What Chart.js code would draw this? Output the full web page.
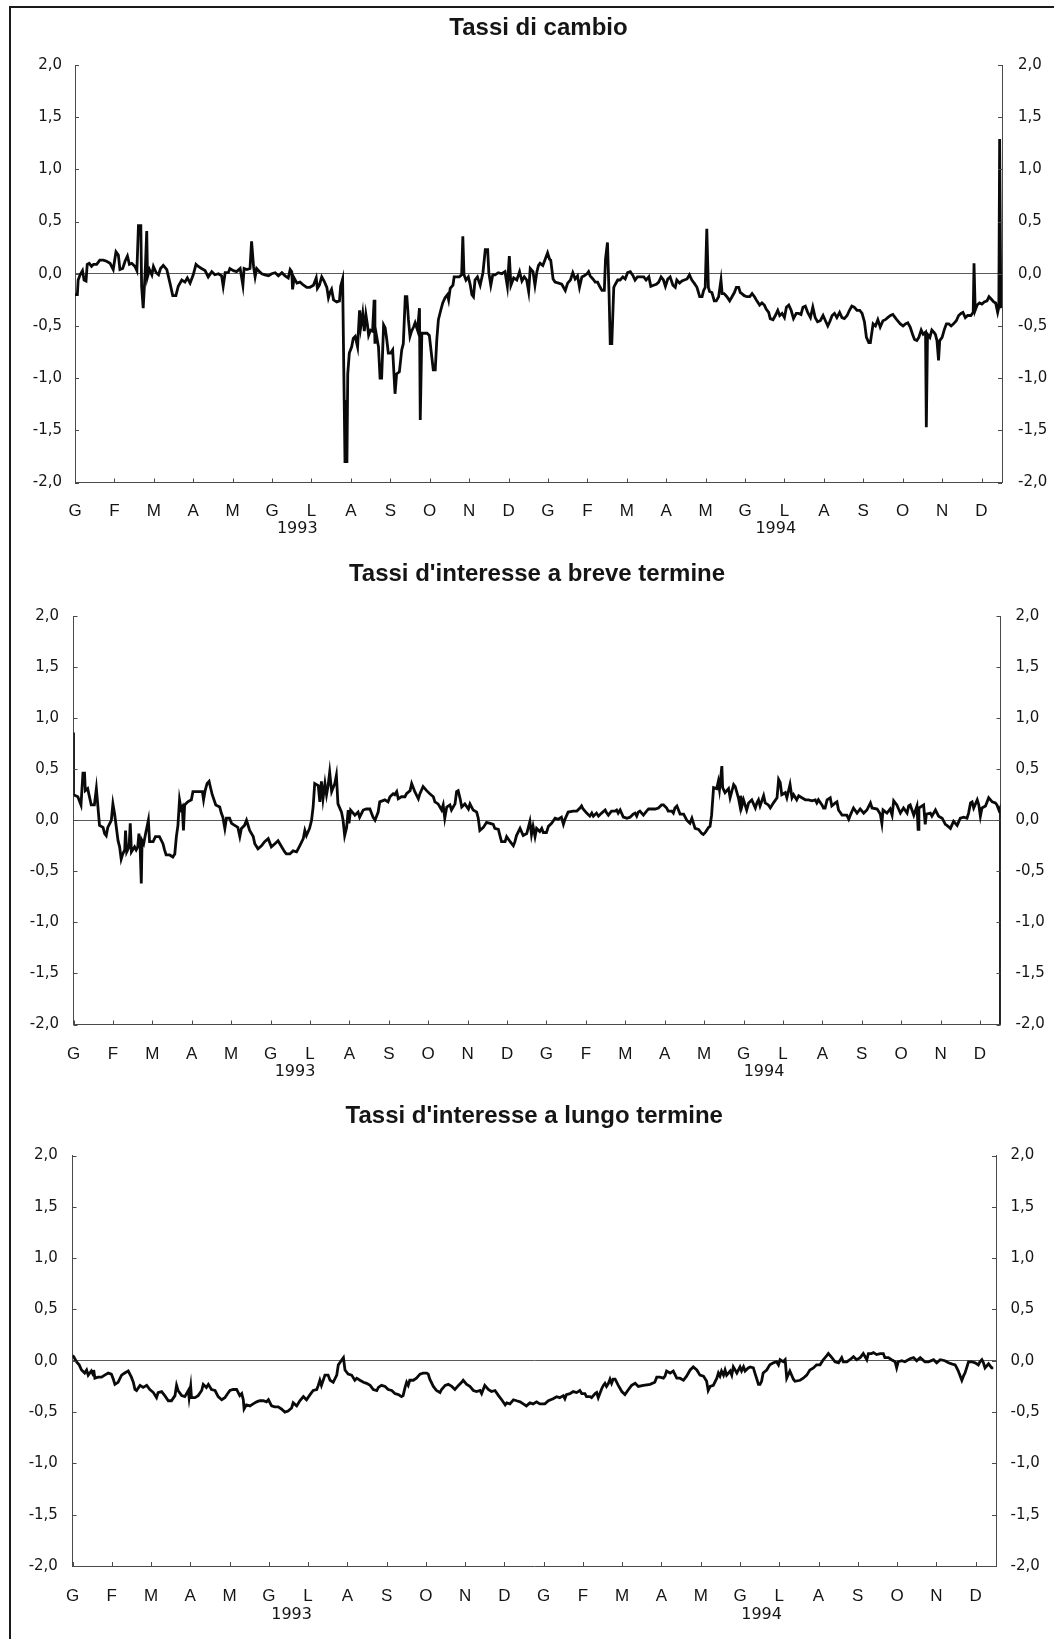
<!DOCTYPE html>
<html>
<head>
<meta charset="utf-8">
<script src="https://cdn.jsdelivr.net/npm/chart.js@4.4.1/dist/chart.umd.min.js"></script>
<style>
  html, body { margin: 0; padding: 0; background: #fff; }
  body { width: 1054px; height: 1639px; position: relative; overflow: hidden; }
  .frame { position: absolute; left: 9px; top: 6px; width: 1070px; height: 1660px;
           border: 2px solid #1a1a1a; box-sizing: border-box; }
  canvas { position: absolute; left: 0; }
</style>
</head>
<body>
<div class="frame"></div>
<canvas id="cambio" width="1054" height="545" style="top:0px"></canvas>
<canvas id="breve" width="1054" height="545" style="top:545px"></canvas>
<canvas id="lungo" width="1054" height="549" style="top:1090px"></canvas>

<script>
// mesi (G = gennaio 1993 ... D = dicembre 1994), asse x in mesi da inizio 1993
const mesi = ["G","F","M","A","M","G","L","A","S","O","N","D",
              "G","F","M","A","M","G","L","A","S","O","N","D"];
const meseTicks = [0,1,2,3,4,5,6,7,8,9,10,11,12,13,14,15,16,17,18,19,20,21,22,23];
const anni = ["1993", "1994"];
const yTicks = [-2, -1.5, -1, -0.5, 0, 0.5, 1, 1.5, 2];

// [mese, valore]
const cambio = [
  [0.00,-0.20],[0.06,-0.20],[0.08,-0.06],[0.13,-0.01],[0.19,0.03],[0.23,-0.06],[0.28,-0.07],[0.31,0.09],
  [0.36,0.10],[0.42,0.07],[0.47,0.09],[0.55,0.09],[0.63,0.13],[0.72,0.13],[0.80,0.12],[0.89,0.10],
  [0.97,0.04],[1.04,0.21],[1.10,0.18],[1.14,0.04],[1.21,0.05],[1.27,0.12],[1.33,0.17],[1.38,0.09],
  [1.44,0.10],[1.52,0.07],[1.57,0.03],[1.61,0.46],[1.67,0.46],[1.69,-0.12],[1.73,-0.33],[1.78,0.01],
  [1.82,0.41],[1.84,-0.03],[1.89,0.04],[1.95,-0.01],[1.99,0.07],[2.06,0.01],[2.12,-0.01],[2.17,0.05],
  [2.24,0.08],[2.33,0.04],[2.41,-0.09],[2.48,-0.21],[2.56,-0.21],[2.62,-0.12],[2.71,-0.06],[2.79,-0.08],
  [2.85,-0.04],[2.92,-0.09],[3.00,-0.01],[3.07,0.09],[3.13,0.07],[3.21,0.05],[3.30,0.03],[3.38,-0.03],
  [3.47,0.02],[3.55,-0.01],[3.64,0.00],[3.72,-0.02],[3.76,-0.12],[3.81,0.01],[3.89,0.01],[3.93,0.05],
  [4.02,0.03],[4.10,0.02],[4.19,0.05],[4.26,-0.11],[4.29,0.05],[4.36,0.04],[4.44,0.05],[4.48,0.31],
  [4.53,0.07],[4.57,-0.03],[4.61,0.05],[4.68,0.02],[4.74,0.00],[4.82,-0.01],[4.91,-0.02],[4.99,0.00],
  [5.08,0.01],[5.16,-0.02],[5.25,0.01],[5.33,-0.02],[5.41,-0.04],[5.46,0.04],[5.50,0.02],[5.52,-0.15],
  [5.56,-0.04],[5.63,-0.09],[5.71,-0.08],[5.80,-0.11],[5.88,-0.13],[5.96,-0.13],[6.05,-0.11],[6.12,-0.04],
  [6.15,-0.14],[6.20,-0.11],[6.26,-0.03],[6.32,-0.07],[6.39,-0.13],[6.43,-0.23],[6.47,-0.18],[6.51,-0.15],
  [6.56,-0.25],[6.64,-0.27],[6.71,-0.26],[6.74,-0.12],[6.79,-0.05],[6.83,-1.21],[6.85,-1.80],[6.90,-1.80],
  [6.92,-0.96],[6.96,-0.76],[7.02,-0.70],[7.06,-0.62],[7.11,-0.60],[7.17,-0.70],[7.22,-0.35],[7.25,-0.51],
  [7.30,-0.38],[7.34,-0.55],[7.38,-0.39],[7.42,-0.49],[7.45,-0.59],[7.50,-0.54],[7.55,-0.55],[7.59,-0.25],
  [7.61,-0.67],[7.64,-0.57],[7.70,-0.70],[7.74,-1.00],[7.78,-1.00],[7.83,-0.49],[7.87,-0.52],[7.91,-0.63],
  [7.95,-0.76],[8.01,-0.76],[8.06,-0.73],[8.12,-1.15],[8.16,-0.96],[8.23,-0.94],[8.29,-0.73],[8.33,-0.67],
  [8.38,-0.22],[8.42,-0.22],[8.46,-0.44],[8.50,-0.60],[8.54,-0.55],[8.59,-0.51],[8.63,-0.47],[8.69,-0.54],
  [8.74,-0.33],[8.76,-1.40],[8.80,-0.57],[8.86,-0.57],[8.93,-0.57],[8.99,-0.59],[9.05,-0.79],[9.09,-0.92],
  [9.14,-0.92],[9.18,-0.63],[9.22,-0.44],[9.28,-0.35],[9.33,-0.28],[9.39,-0.23],[9.45,-0.20],[9.48,-0.25],
  [9.52,-0.14],[9.59,-0.11],[9.62,-0.03],[9.69,-0.03],[9.75,-0.03],[9.81,-0.01],[9.84,0.36],[9.87,-0.01],
  [9.92,-0.06],[9.98,-0.03],[10.03,-0.11],[10.07,-0.20],[10.11,-0.22],[10.15,-0.06],[10.21,-0.03],[10.28,-0.11],
  [10.35,0.01],[10.41,0.23],[10.47,0.23],[10.50,0.01],[10.55,-0.11],[10.60,-0.01],[10.66,-0.01],[10.74,0.01],
  [10.83,0.00],[10.91,0.02],[10.97,-0.12],[11.02,0.17],[11.06,-0.11],[11.13,-0.04],[11.21,-0.06],[11.28,0.02],
  [11.34,-0.07],[11.40,-0.03],[11.46,-0.06],[11.51,-0.17],
  [11.55,0.05],[11.62,0.02],[11.67,-0.11],[11.72,0.02],[11.76,0.08],[11.80,0.10],[11.87,0.08],[11.93,0.14],
  [11.99,0.20],[12.04,0.14],[12.07,0.13],[12.13,-0.05],[12.18,-0.08],[12.27,-0.09],[12.35,-0.10],[12.44,-0.16],
  [12.50,-0.09],[12.57,-0.06],[12.63,0.01],[12.69,-0.05],[12.75,-0.02],[12.80,-0.13],[12.86,-0.03],[12.92,-0.02],
  [12.99,0.00],[13.03,0.02],[13.07,-0.02],[13.14,-0.05],[13.20,-0.08],[13.26,-0.08],[13.31,-0.12],[13.37,-0.16],
  [13.43,-0.16],[13.46,0.14],[13.51,0.30],[13.55,-0.19],[13.58,-0.67],[13.62,-0.67],[13.67,-0.13],[13.71,-0.10],
  [13.77,-0.06],[13.83,-0.06],[13.90,-0.03],[13.96,-0.05],[14.02,0.01],[14.09,0.02],[14.16,-0.02],[14.21,-0.06],
  [14.27,-0.03],[14.34,-0.03],[14.43,-0.03],[14.49,-0.06],[14.56,-0.03],[14.61,-0.12],[14.68,-0.11],[14.75,-0.10],
  [14.81,-0.08],[14.87,-0.03],[14.93,-0.06],[14.98,-0.12],[15.04,-0.05],[15.10,-0.03],[15.17,-0.11],[15.23,-0.13],
  [15.27,-0.06],[15.34,-0.09],[15.40,-0.07],[15.46,-0.06],[15.53,-0.05],[15.59,-0.01],[15.65,-0.06],[15.71,-0.09],
  [15.78,-0.13],[15.85,-0.22],[15.91,-0.22],[15.95,-0.16],[15.99,-0.13],[16.03,0.43],[16.07,-0.13],[16.10,-0.17],
  [16.16,-0.18],[16.22,-0.26],[16.27,-0.26],[16.33,-0.22],[16.39,-0.06],[16.42,-0.19],[16.47,-0.19],[16.54,-0.22],
  [16.61,-0.26],[16.67,-0.22],[16.73,-0.18],[16.78,-0.13],[16.84,-0.13],[16.88,-0.18],[16.92,-0.19],[16.98,-0.21],
  [17.05,-0.22],[17.12,-0.22],[17.18,-0.19],[17.24,-0.22],[17.30,-0.26],[17.37,-0.30],[17.43,-0.28],[17.49,-0.30],
  [17.54,-0.34],[17.60,-0.37],[17.64,-0.43],[17.71,-0.44],[17.77,-0.40],[17.83,-0.35],[17.88,-0.40],[17.94,-0.38],
  [18.00,-0.42],[18.05,-0.32],[18.11,-0.30],[18.17,-0.35],[18.23,-0.43],[18.30,-0.38],[18.36,-0.38],[18.42,-0.39],
  [18.47,-0.32],[18.53,-0.31],[18.59,-0.37],[18.66,-0.42],[18.72,-0.32],[18.78,-0.42],[18.84,-0.46],[18.91,-0.45],
  [18.98,-0.40],[19.04,-0.45],[19.10,-0.50],[19.15,-0.46],[19.21,-0.40],[19.27,-0.38],[19.33,-0.42],[19.40,-0.37],
  [19.46,-0.42],[19.52,-0.43],[19.59,-0.40],[19.65,-0.35],[19.71,-0.31],[19.77,-0.32],[19.84,-0.35],[19.91,-0.35],
  [19.97,-0.38],[20.03,-0.46],[20.08,-0.61],[20.14,-0.66],[20.18,-0.66],[20.25,-0.48],[20.31,-0.50],[20.37,-0.44],
  [20.43,-0.51],[20.50,-0.45],[20.56,-0.44],[20.62,-0.42],[20.69,-0.40],[20.75,-0.39],[20.81,-0.42],[20.87,-0.45],
  [20.94,-0.48],[21.01,-0.50],[21.07,-0.48],[21.13,-0.47],[21.19,-0.51],[21.25,-0.58],[21.30,-0.63],[21.36,-0.64],
  [21.41,-0.61],[21.47,-0.54],[21.52,-0.58],[21.58,-0.56],[21.60,-1.47],[21.63,-0.58],[21.69,-0.61],[21.74,-0.54],
  [21.79,-0.56],[21.83,-0.58],[21.87,-0.64],[21.91,-0.83],[21.94,-0.64],[22.00,-0.61],[22.06,-0.53],[22.11,-0.48],
  [22.17,-0.48],[22.23,-0.50],[22.29,-0.48],[22.36,-0.45],[22.42,-0.40],[22.48,-0.38],[22.53,-0.37],[22.59,-0.42],
  [22.65,-0.40],[22.70,-0.40],[22.73,-0.40],[22.79,-0.37],[22.81,0.10],[22.84,-0.35],[22.89,-0.30],[22.95,-0.28],
  [23.01,-0.29],[23.07,-0.27],[23.14,-0.26],[23.19,-0.22],[23.24,-0.24],[23.31,-0.27],[23.36,-0.28],[23.41,-0.37],
  [23.44,-0.32],[23.46,1.29],[23.49,-0.30],[23.51,-0.33]
];

const breve = [
  [0.00,0.86],
  [0.00,0.25],[0.11,0.23],[0.19,0.15],[0.24,0.46],[0.28,0.46],[0.30,0.29],[0.36,0.31],[0.45,0.15],
  [0.53,0.15],[0.58,0.31],[0.62,0.13],[0.66,-0.05],[0.75,-0.07],[0.79,-0.13],[0.83,-0.15],[0.87,-0.07],
  [0.96,0.00],[1.00,0.16],[1.04,0.07],[1.07,-0.02],[1.13,-0.20],[1.17,-0.26],[1.21,-0.38],[1.25,-0.33],
  [1.30,-0.29],[1.32,-0.10],[1.35,-0.31],[1.41,-0.26],[1.44,-0.03],[1.47,-0.31],[1.55,-0.26],[1.59,-0.29],
  [1.63,-0.26],[1.66,-0.13],[1.69,-0.26],[1.72,-0.62],[1.74,-0.20],[1.78,-0.23],[1.83,-0.13],[1.90,0.00],
  [1.93,-0.21],[2.02,-0.21],[2.08,-0.16],[2.18,-0.16],[2.27,-0.23],[2.31,-0.29],[2.35,-0.34],[2.44,-0.34],
  [2.52,-0.36],[2.57,-0.33],[2.61,-0.16],[2.65,-0.05],[2.69,0.20],[2.73,0.11],[2.76,0.13],[2.79,-0.10],
  [2.82,0.15],[2.90,0.18],[2.99,0.20],[3.03,0.28],[3.16,0.28],[3.27,0.28],[3.30,0.20],[3.34,0.29],
  [3.39,0.36],[3.44,0.38],[3.47,0.33],[3.52,0.25],[3.61,0.15],[3.71,0.13],[3.75,0.07],[3.79,0.03],
  [3.84,-0.08],[3.88,0.02],[3.96,0.02],[4.01,-0.03],[4.09,-0.05],[4.17,-0.07],[4.22,-0.16],[4.26,-0.08],
  [4.34,-0.05],[4.39,0.00],[4.47,-0.10],[4.56,-0.16],[4.60,-0.23],[4.68,-0.28],[4.77,-0.25],[4.85,-0.21],
  [4.94,-0.18],[5.02,-0.26],[5.11,-0.23],[5.19,-0.20],[5.28,-0.26],[5.36,-0.31],[5.40,-0.33],[5.49,-0.33],
  [5.57,-0.30],[5.66,-0.31],[5.74,-0.25],[5.83,-0.18],[5.87,-0.10],[5.91,-0.15],[5.99,-0.08],[6.04,0.00],
  [6.08,0.13],[6.12,0.36],[6.21,0.34],[6.25,0.18],[6.29,0.38],[6.33,0.21],[6.38,0.36],[6.42,0.25],
  [6.46,0.34],[6.50,0.47],[6.55,0.28],[6.63,0.36],[6.67,0.44],[6.71,0.16],[6.80,0.08],[6.84,0.00],
  [6.88,-0.15],[6.93,-0.07],[6.97,0.10],[6.99,-0.03],[7.03,0.10],[7.14,0.05],[7.22,0.08],[7.26,0.03],
  [7.35,0.10],[7.43,0.11],[7.52,0.11],[7.60,0.03],[7.65,0.00],[7.73,0.08],[7.77,0.18],[7.90,0.20],
  [7.98,0.18],[8.03,0.23],[8.11,0.26],[8.15,0.25],[8.20,0.28],[8.24,0.21],[8.32,0.23],[8.41,0.23],
  [8.45,0.26],[8.54,0.29],[8.58,0.36],[8.66,0.28],[8.75,0.21],[8.79,0.26],[8.87,0.33],[8.96,0.29],
  [9.04,0.26],[9.13,0.23],[9.17,0.18],[9.25,0.16],[9.34,0.10],[9.38,0.15],[9.42,0.02],[9.47,0.13],
  [9.55,0.15],[9.59,0.10],[9.68,0.16],[9.72,0.28],[9.76,0.29],[9.81,0.21],[9.85,0.13],[9.93,0.16],
  [10.02,0.11],[10.06,0.16],[10.14,0.10],[10.23,0.08],[10.27,0.02],[10.31,-0.10],[10.40,-0.07],[10.48,-0.02],
  [10.57,-0.03],[10.65,-0.04],[10.69,-0.08],[10.78,-0.09],[10.82,-0.15],[10.86,-0.21],[10.95,-0.21],[10.99,-0.16],
  [11.08,-0.21],[11.16,-0.25],[11.20,-0.21],[11.24,-0.15],[11.33,-0.08],[11.41,-0.15],[11.50,-0.13],
  [11.58,-0.01],[11.62,-0.14],[11.66,-0.06],[11.71,-0.16],[11.75,-0.08],[11.83,-0.11],[11.88,-0.08],[11.92,-0.12],
  [12.00,-0.12],[12.05,-0.06],[12.13,-0.03],[12.22,0.02],[12.30,0.01],[12.38,0.03],[12.43,-0.04],[12.47,0.01],
  [12.55,0.08],[12.68,0.09],[12.77,0.09],[12.85,0.12],[12.89,0.14],[12.93,0.11],[13.02,0.07],[13.10,0.04],
  [13.15,0.07],[13.19,0.04],[13.27,0.07],[13.32,0.04],[13.40,0.07],[13.49,0.10],[13.53,0.07],[13.57,0.05],
  [13.65,0.09],[13.74,0.09],[13.78,0.10],[13.82,0.07],[13.87,0.10],[13.95,0.03],[14.04,0.02],[14.12,0.03],
  [14.20,0.06],[14.25,0.07],[14.29,0.04],[14.33,0.08],[14.37,0.09],[14.46,0.05],[14.54,0.09],[14.59,0.11],
  [14.67,0.11],[14.76,0.11],[14.84,0.12],[14.92,0.15],[14.97,0.15],[15.05,0.12],[15.09,0.09],[15.18,0.09],
  [15.22,0.07],[15.26,0.12],[15.31,0.14],[15.39,0.06],[15.48,0.06],[15.52,0.03],[15.56,0.00],[15.64,-0.03],
  [15.69,0.02],[15.77,-0.08],[15.86,-0.09],[15.94,-0.13],[15.98,-0.14],[16.03,-0.12],[16.11,-0.07],[16.15,-0.06],
  [16.19,0.05],[16.24,0.32],[16.32,0.31],[16.36,0.38],[16.39,0.30],[16.42,0.41],[16.45,0.53],[16.47,0.32],
  [16.53,0.27],[16.62,0.31],[16.66,0.22],[16.75,0.35],[16.79,0.33],[16.87,0.22],[16.91,0.14],[16.93,0.24],
  [16.96,0.14],[17.00,0.20],[17.08,0.10],[17.13,0.17],[17.21,0.20],[17.30,0.12],[17.34,0.17],[17.38,0.20],
  [17.42,0.14],[17.51,0.24],[17.55,0.17],[17.63,0.15],[17.68,0.12],[17.76,0.17],[17.85,0.22],[17.89,0.40],
  [17.93,0.37],[17.97,0.25],[18.06,0.27],[18.10,0.22],[18.18,0.35],[18.23,0.22],[18.27,0.25],[18.35,0.20],
  [18.40,0.24],[18.48,0.22],[18.57,0.20],[18.65,0.20],[18.74,0.19],[18.82,0.20],[18.86,0.17],[18.90,0.20],
  [18.99,0.15],[19.03,0.12],[19.07,0.12],[19.12,0.20],[19.20,0.22],[19.24,0.14],[19.33,0.17],[19.37,0.18],
  [19.41,0.10],[19.50,0.05],[19.62,0.05],[19.67,0.01],[19.71,0.05],[19.79,0.12],[19.88,0.07],[19.96,0.11],
  [20.05,0.07],[20.13,0.10],[20.22,0.17],[20.26,0.12],[20.39,0.11],[20.47,0.06],[20.51,-0.03],[20.54,0.10],
  [20.64,0.07],[20.72,0.11],[20.77,0.05],[20.81,0.19],[20.89,0.15],[20.98,0.07],[21.06,0.12],[21.15,0.07],
  [21.19,0.14],[21.23,0.15],[21.32,0.05],[21.40,0.14],[21.43,-0.09],[21.45,0.12],[21.57,0.15],[21.61,-0.04],
  [21.64,0.06],[21.74,0.07],[21.78,0.04],[21.87,0.10],[21.95,0.04],[22.04,0.02],[22.12,-0.04],[22.16,-0.05],
  [22.25,-0.08],[22.33,-0.01],[22.42,-0.05],[22.50,0.02],[22.59,0.03],[22.67,0.02],[22.71,0.07],[22.76,0.17],
  [22.80,0.18],[22.84,0.12],[22.93,0.20],[22.97,0.15],[23.01,0.04],[23.05,0.12],[23.14,0.14],[23.22,0.22],
  [23.31,0.18],[23.39,0.17],[23.43,0.15],[23.48,0.10],[23.52,0.13],[23.52,-2.00]
];

const lungo = [
  [0.00,0.05],[0.03,0.04],[0.10,-0.01],[0.17,-0.04],[0.23,-0.09],[0.31,-0.12],[0.36,-0.09],[0.40,-0.14],
  [0.48,-0.10],[0.53,-0.14],[0.54,-0.09],[0.57,-0.17],[0.65,-0.16],[0.74,-0.16],[0.82,-0.14],[0.91,-0.12],
  [0.99,-0.13],[1.04,-0.18],[1.08,-0.23],[1.16,-0.21],[1.25,-0.14],[1.33,-0.12],[1.42,-0.10],[1.50,-0.16],
  [1.55,-0.21],[1.59,-0.28],[1.63,-0.29],[1.72,-0.24],[1.80,-0.26],[1.89,-0.24],[1.97,-0.28],[2.06,-0.31],
  [2.14,-0.36],[2.18,-0.31],[2.27,-0.30],[2.35,-0.34],[2.44,-0.39],[2.52,-0.39],[2.61,-0.34],[2.65,-0.24],
  [2.69,-0.29],[2.78,-0.34],[2.86,-0.35],[2.95,-0.29],[2.97,-0.36],[3.01,-0.25],[3.03,-0.36],[3.12,-0.36],
  [3.20,-0.34],[3.29,-0.29],[3.33,-0.23],[3.41,-0.26],[3.46,-0.23],[3.54,-0.28],[3.63,-0.29],[3.71,-0.35],
  [3.80,-0.38],[3.88,-0.36],[3.97,-0.31],[4.01,-0.29],[4.09,-0.28],[4.18,-0.28],[4.26,-0.34],[4.31,-0.32],
  [4.35,-0.38],[4.37,-0.47],[4.43,-0.43],[4.52,-0.44],[4.60,-0.42],[4.69,-0.40],[4.77,-0.39],[4.86,-0.39],
  [4.94,-0.40],[4.99,-0.38],[5.07,-0.44],[5.15,-0.45],[5.24,-0.45],[5.32,-0.47],[5.41,-0.50],[5.49,-0.49],
  [5.58,-0.46],[5.62,-0.41],[5.71,-0.44],[5.79,-0.39],[5.88,-0.35],[5.96,-0.38],[6.05,-0.33],[6.13,-0.29],
  [6.22,-0.28],[6.26,-0.24],[6.30,-0.19],[6.34,-0.24],[6.43,-0.14],[6.51,-0.14],[6.56,-0.19],[6.64,-0.21],
  [6.73,-0.14],[6.77,-0.04],[6.86,0.01],[6.90,0.03],[6.94,-0.09],[7.02,-0.13],[7.11,-0.14],[7.19,-0.19],
  [7.24,-0.17],[7.32,-0.19],[7.41,-0.21],[7.49,-0.22],[7.58,-0.24],[7.66,-0.28],[7.75,-0.29],[7.79,-0.26],
  [7.87,-0.24],[7.96,-0.25],[8.04,-0.28],[8.13,-0.29],[8.21,-0.32],[8.30,-0.33],[8.38,-0.35],[8.42,-0.34],
  [8.47,-0.26],[8.51,-0.21],[8.55,-0.24],[8.59,-0.19],[8.68,-0.19],[8.76,-0.17],[8.85,-0.13],[8.93,-0.12],
  [9.02,-0.12],[9.06,-0.13],[9.10,-0.18],[9.19,-0.25],[9.27,-0.29],[9.36,-0.31],[9.40,-0.28],[9.49,-0.24],
  [9.57,-0.23],[9.66,-0.25],[9.74,-0.28],[9.83,-0.24],[9.91,-0.21],[9.95,-0.19],[10.04,-0.23],[10.12,-0.25],
  [10.21,-0.29],[10.29,-0.30],[10.38,-0.29],[10.42,-0.32],[10.46,-0.28],[10.50,-0.24],[10.59,-0.28],[10.67,-0.30],
  [10.76,-0.29],[10.85,-0.34],[10.93,-0.38],[11.02,-0.43],[11.06,-0.41],[11.14,-0.42],[11.23,-0.38],[11.31,-0.39],
  [11.40,-0.40],[11.48,-0.42],[11.56,-0.44],
  [11.65,-0.41],[11.73,-0.42],[11.82,-0.40],[11.90,-0.42],[12.03,-0.42],[12.12,-0.39],[12.24,-0.37],[12.33,-0.35],
  [12.41,-0.36],[12.50,-0.34],[12.54,-0.37],[12.58,-0.33],[12.67,-0.32],[12.75,-0.30],[12.84,-0.31],[12.92,-0.29],
  [12.97,-0.32],[13.05,-0.32],[13.09,-0.35],[13.18,-0.35],[13.22,-0.36],[13.31,-0.32],[13.35,-0.31],[13.39,-0.36],
  [13.48,-0.27],[13.52,-0.24],[13.56,-0.22],[13.60,-0.25],[13.65,-0.22],[13.69,-0.18],[13.73,-0.22],[13.77,-0.18],
  [13.82,-0.18],[13.90,-0.24],[13.99,-0.30],[14.07,-0.33],[14.16,-0.28],[14.24,-0.24],[14.33,-0.22],[14.41,-0.25],
  [14.54,-0.24],[14.71,-0.23],[14.83,-0.21],[14.88,-0.16],[14.96,-0.16],[15.05,-0.17],[15.09,-0.15],[15.13,-0.10],
  [15.22,-0.12],[15.30,-0.10],[15.39,-0.17],[15.47,-0.17],[15.56,-0.19],[15.64,-0.15],[15.73,-0.09],[15.81,-0.06],
  [15.90,-0.09],[15.98,-0.14],[16.07,-0.15],[16.15,-0.20],[16.19,-0.29],[16.24,-0.25],[16.32,-0.24],[16.41,-0.17],
  [16.45,-0.12],[16.49,-0.15],[16.53,-0.10],[16.58,-0.14],[16.62,-0.09],[16.66,-0.14],[16.75,-0.10],[16.79,-0.14],
  [16.83,-0.06],[16.92,-0.12],[17.00,-0.06],[17.04,-0.10],[17.09,-0.06],[17.13,-0.10],[17.21,-0.07],[17.26,-0.06],
  [17.34,-0.07],[17.38,-0.12],[17.43,-0.18],[17.47,-0.23],[17.51,-0.23],[17.55,-0.20],[17.59,-0.12],[17.68,-0.09],
  [17.76,-0.04],[17.85,-0.02],[17.93,-0.01],[17.98,-0.04],[18.02,0.01],[18.10,-0.01],[18.15,0.01],[18.19,-0.17],
  [18.27,-0.10],[18.36,-0.18],[18.40,-0.20],[18.53,-0.19],[18.61,-0.17],[18.70,-0.14],[18.78,-0.09],[18.87,-0.07],
  [18.95,-0.04],[19.04,-0.04],[19.12,0.01],[19.21,0.05],[19.25,0.07],[19.34,0.03],[19.42,-0.01],[19.51,-0.02],
  [19.59,0.03],[19.63,-0.01],[19.72,-0.01],[19.80,0.01],[19.89,0.04],[19.97,0.01],[20.06,0.03],[20.14,0.07],
  [20.23,0.01],[20.27,0.07],[20.35,0.07],[20.40,0.08],[20.48,0.06],[20.57,0.07],[20.65,0.07],[20.69,0.03],
  [20.78,0.03],[20.86,0.01],[20.95,-0.01],[20.99,-0.07],[21.03,-0.01],[21.12,0.00],[21.20,-0.01],[21.33,0.02],
  [21.42,0.03],[21.50,0.00],[21.59,0.03],[21.71,-0.01],[21.80,-0.01],[21.93,0.01],[22.01,-0.02],[22.10,0.01],
  [22.22,0.00],[22.31,-0.02],[22.39,-0.03],[22.48,-0.04],[22.52,-0.07],[22.56,-0.10],[22.61,-0.15],[22.65,-0.19],
  [22.69,-0.15],[22.73,-0.12],[22.78,-0.06],[22.82,-0.01],[22.90,-0.01],[22.99,-0.02],[23.07,-0.04],[23.11,-0.01],
  [23.16,0.01],[23.20,-0.02],[23.24,-0.07],[23.33,-0.03],[23.41,-0.07],[23.45,-0.07]
];

const FONT = "'Liberation Sans', Arial, Helvetica, sans-serif";
const NUMFONT = "'DejaVu Sans', 'Liberation Sans', sans-serif";
const INK = "#151515";
const AXIS = "#4a4a4a";

// tacche interne sugli assi ed etichette degli anni
const inner = {
  id: "inner",
  afterDraw(chart, args, opts) {
    const { ctx, chartArea: a, scales } = chart;
    ctx.save();
    ctx.beginPath();
    ctx.strokeStyle = AXIS;
    ctx.lineWidth = 1;
    scales.x.ticks.forEach(t => {
      const px = Math.round(scales.x.getPixelForValue(t.value)) + 0.5;
      ctx.moveTo(px, a.bottom);
      ctx.lineTo(px, a.bottom - 4);
    });
    scales.y.ticks.forEach(t => {
      const py = Math.round(scales.y.getPixelForValue(t.value)) + 0.5;
      ctx.moveTo(a.left, py);
      ctx.lineTo(a.left + 4, py);
      ctx.moveTo(a.right, py);
      ctx.lineTo(a.right - 4, py);
    });
    ctx.stroke();
    ctx.fillStyle = INK;
    ctx.font = "16px " + NUMFONT;
    ctx.textAlign = "center";
    ctx.textBaseline = "middle";
    anni.forEach((lab, i) => {
      ctx.fillText(lab, scales.x.getPixelForValue(opts.anniPos[i]), a.bottom + opts.yearGap);
    });
    ctx.restore();
  }
};

const fmt = v => v.toFixed(1).replace(".", ",");

function yAxis(pos, width, pad) {
  return {
    position: pos,
    min: -2,
    max: 2,
    afterBuildTicks: s => { s.ticks = yTicks.map(v => ({ value: v })); },
    afterFit: s => { s.width = width; },
    grid: {
      display: pos === "left",
      drawTicks: false,
      lineWidth: 1,
      color: c => (c.tick && c.tick.value === 0) ? "#5a5a5a" : "rgba(0,0,0,0)"
    },
    border: { display: true, color: AXIS, width: 1 },
    ticks: { padding: pad, color: INK, font: { family: NUMFONT, size: 15 }, callback: v => fmt(v) }
  };
}

function pannello(id, titolo, serie, g) {
  return new Chart(document.getElementById(id), {
    type: "line",
    data: {
      datasets: [{
        data: serie.map(p => ({ x: p[0], y: p[1] })),
        borderColor: "#0a0a0a",
        borderWidth: 2.8,
        pointRadius: 0,
        tension: 0,
        fill: false
      }]
    },
    options: {
      responsive: false,
      animation: false,
      devicePixelRatio: 1,
      layout: { padding: 0 },
      plugins: {
        legend: { display: false },
        tooltip: { enabled: false },
        title: {
          display: true,
          text: titolo,
          color: INK,
          fullSize: false,
          font: { family: FONT, size: 24, weight: "bold" },
          padding: { top: g.tTop, bottom: g.tBottom }
        },
        inner: { yearGap: g.yearGap, anniPos: g.anniPos }
      },
      scales: {
        x: {
          type: "linear",
          min: 0,
          max: 23.52,
          afterBuildTicks: s => { s.ticks = meseTicks.map(v => ({ value: v })); },
          afterFit: s => { s.height = g.xh; },
          grid: { display: false },
          border: { display: true, color: AXIS, width: 1 },
          ticks: {
            autoSkip: false,
            maxRotation: 0,
            padding: g.xPad,
            color: INK,
            font: { family: FONT, size: 17 },
            callback: (v, i) => mesi[i]
          }
        },
        y: yAxis("left", g.left, g.lPad),
        y2: yAxis("right", g.right, g.rPad)
      }
    },
    plugins: [inner]
  });
}

pannello("cambio", "Tassi di cambio", cambio,
  { left: 75, right: 52, tTop: 13.6, tBottom: 22.6, xh: 62.5, xPad: 10.5, lPad: 13, rPad: 16,
    yearGap: 46, anniPos: [5.64, 17.78] });
pannello("breve", "Tassi d'interesse a breve termine", breve,
  { left: 73.5, right: 53.5, tTop: 15.3, tBottom: 26.9, xh: 65.5, xPad: 12, lPad: 14.5, rPad: 15,
    yearGap: 47.5, anniPos: [5.62, 17.52] });
pannello("lungo", "Tassi d'interesse a lungo termine", lungo,
  { left: 72.5, right: 58, tTop: 11.6, tBottom: 25.1, xh: 73, xPad: 12.5, lPad: 14.6, rPad: 14.5,
    yearGap: 49, anniPos: [5.58, 17.55] });
</script>
</body>
</html>
